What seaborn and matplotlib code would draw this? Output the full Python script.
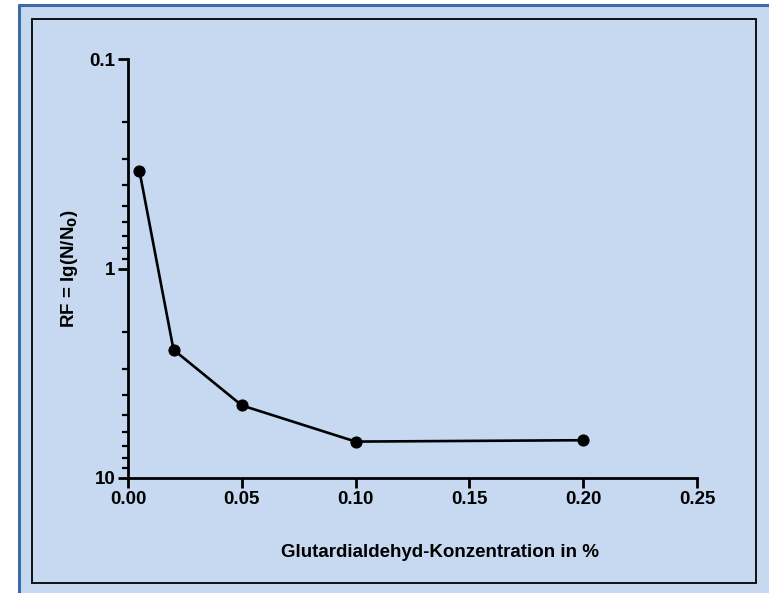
import matplotlib
matplotlib.use("Agg")
import matplotlib.pyplot as plt
import seaborn as sns
import pandas as pd
from matplotlib.patches import Rectangle
from matplotlib.ticker import LogLocator, FixedLocator, NullFormatter, FixedFormatter

concentration = [0.005, 0.02, 0.05, 0.10, 0.20]
rf_values = [0.34, 2.44, 4.50, 6.7, 6.6]
x_ticks = [0.00, 0.05, 0.10, 0.15, 0.20, 0.25]
x_tick_labels = ["0.00", "0.05", "0.10", "0.15", "0.20", "0.25"]
y_ticks = [0.1, 1, 10]
y_tick_labels = ["0.1", "1", "10"]

df = pd.DataFrame({"conc": concentration, "rf": rf_values})

sns.set_theme(style="ticks")
plt.rcParams["font.family"] = ["Liberation Sans", "DejaVu Sans"]

W, H = 769, 593
bg = "#C6D9F1"
fs = 13.5
fig = plt.figure(figsize=(W / 100, H / 100), dpi=100, facecolor="white")

# background panel with blue border (top and left visible)
fig.patches.append(Rectangle((19 / W, 0), 1 - 19 / W, 1 - 5 / H, transform=fig.transFigure,
                             facecolor=bg, edgecolor="none", zorder=-3))
fig.lines.append(plt.Line2D([19 / W, 19 / W], [0, 1 - 5 / H], transform=fig.transFigure,
                            color="#3D6BA8", lw=2.2, zorder=-2))
fig.lines.append(plt.Line2D([19 / W, 1], [1 - 5 / H, 1 - 5 / H], transform=fig.transFigure,
                            color="#3D6BA8", lw=2.2, zorder=-2))
# inner black frame
fig.patches.append(Rectangle((32 / W, 1 - 583 / H), (756 - 32) / W, (583 - 19) / H,
                             transform=fig.transFigure, facecolor="none",
                             edgecolor="black", lw=1.3, zorder=-2))

ax = fig.add_axes([128 / W, 1 - 478 / H, (697 - 128) / W, (478 - 59.3) / H])
ax.set_zorder(2)
ax.set_facecolor("none")

sns.lineplot(data=df, x="conc", y="rf", ax=ax, color="black", lw=1.9,
             marker="o", markersize=8, markeredgecolor="black", markerfacecolor="black",
             clip_on=False)

ax.set_yscale("log")
ax.set_ylim(10, 0.1)
ax.set_xlim(0, 0.25)

ax.yaxis.set_major_locator(FixedLocator(y_ticks))
ax.yaxis.set_major_formatter(FixedFormatter(y_tick_labels))
ax.yaxis.set_minor_locator(LogLocator(base=10, subs=range(2, 10)))
ax.yaxis.set_minor_formatter(NullFormatter())
ax.set_xticks(x_ticks)
ax.set_xticklabels(x_tick_labels)

for s in ["top", "right"]:
    ax.spines[s].set_visible(False)
for s in ["left", "bottom"]:
    ax.spines[s].set_linewidth(2.0)
    ax.spines[s].set_color("black")

ax.tick_params(axis="both", which="major", length=7, width=2.0, color="black",
               labelsize=fs, pad=2)
ax.tick_params(axis="y", which="minor", length=4.5, width=1.6, color="black")
for lbl in ax.get_xticklabels() + ax.get_yticklabels():
    lbl.set_fontweight("bold")
    lbl.set_color("black")

ax.set_xlabel("Glutardialdehyd-Konzentration in %", fontsize=fs, fontweight="bold",
              color="black")
ax.xaxis.set_label_coords(0.548, -0.158)
ax.set_ylabel("RF = lg(N/N$_\\mathbf{0}$)", fontsize=fs, fontweight="bold", color="black")
ax.yaxis.set_label_coords(-0.084, 0.5)

fig.savefig("out.png", dpi=100, facecolor="white")
